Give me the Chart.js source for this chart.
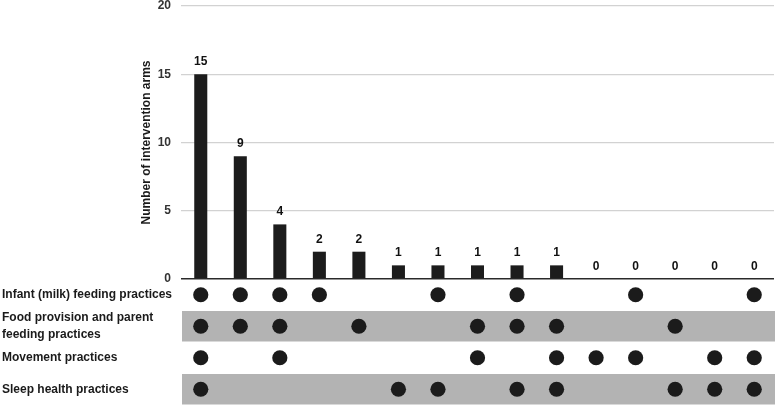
<!DOCTYPE html>
<html>
<head>
<meta charset="utf-8">
<script src="https://cdn.jsdelivr.net/npm/chart.js@4"></script>
<style>
  html, body { margin: 0; padding: 0; background: #fff; }
  #wrap { width: 777px; height: 406px; }
</style>
</head>
<body>
<div id="wrap"><canvas id="upset"></canvas></div>
<script>
// intersection columns (left to right)
const combos = ['c1', 'c2', 'c3', 'c4', 'c5', 'c6', 'c7', 'c8', 'c9', 'c10', 'c11', 'c12', 'c13', 'c14', 'c15'];
const counts = [15, 9, 4, 2, 2, 1, 1, 1, 1, 1, 0, 0, 0, 0, 0];

// matrix rows
const practices = [
  ['Infant (milk) feeding practices'],
  ['Food provision and parent', 'feeding practices'],
  ['Movement practices'],
  ['Sleep health practices']
];
const infantFeeding = [1, 1, 1, 1, 0, 0, 1, 0, 1, 0, 0, 1, 0, 0, 1];
const foodProvision = [1, 1, 1, 0, 1, 0, 0, 1, 1, 1, 0, 0, 1, 0, 0];
const movement      = [1, 0, 1, 0, 0, 0, 0, 1, 0, 1, 1, 1, 0, 1, 1];
const sleepHealth   = [1, 0, 0, 0, 0, 1, 1, 0, 1, 1, 0, 0, 1, 1, 1];
const yTicks = [0, 5, 10, 15, 20];

const membership = [infantFeeding, foodProvision, movement, sleepHealth];

// dots as (column index, row index), built column by column
let dots = [];
combos.forEach((c, col) => {
  membership.forEach((row, r) => {
    if (row[col]) dots.push({ x: col, y: r });
  });
});

const LEFT_W = 179; // room for the row names

const stripes = {
  id: 'stripes',
  beforeDatasetsDraw(chart) {
    const ctx = chart.ctx;
    const ys = chart.scales.yM;
    const area = chart.chartArea;
    const rowH = ys.height / practices.length;
    ctx.save();
    ctx.fillStyle = '#b3b3b3';
    practices.forEach((p, i) => {
      if (i % 2 === 1) {
        const cy = ys.getPixelForValue(i);
        ctx.fillRect(area.left + 1, cy - rowH / 2 + 0.5, area.right - area.left, rowH - 1);
      }
    });
    ctx.restore();
  }
};

const barText = {
  id: 'barText',
  afterDatasetsDraw(chart) {
    const ctx = chart.ctx;
    const meta = chart.getDatasetMeta(0);
    ctx.save();
    ctx.font = 'bold 12px "Liberation Sans", Arial, sans-serif';
    ctx.fillStyle = '#111';
    ctx.textAlign = 'center';
    ctx.textBaseline = 'alphabetic';
    meta.data.forEach((bar, i) => {
      ctx.fillText(String(counts[i]), bar.x, bar.y - 9);
    });

    // axis title, centred on the bar panel
    const yb = chart.scales.y;
    ctx.translate(chart.chartArea.left - 34, (yb.top + yb.bottom) / 2);
    ctx.rotate(-Math.PI / 2);
    ctx.textBaseline = 'middle';
    ctx.fillStyle = '#1a1a1a';
    ctx.fillText('Number of intervention arms', 0, 0);
    ctx.restore();
  }
};

new Chart(document.getElementById('upset'), {
  type: 'bar',
  data: {
    labels: combos,
    datasets: [
      {
        data: counts,
        yAxisID: 'y',
        backgroundColor: '#1c1c1c',
        barPercentage: 0.33,
        categoryPercentage: 1
      },
      {
        type: 'scatter',
        data: dots,
        parsing: false,
        yAxisID: 'yM',
        pointRadius: 7.6,
        pointBackgroundColor: '#1b1b1b',
        pointBorderWidth: 0
      }
    ]
  },
  options: {
    responsive: true,
    maintainAspectRatio: false,
    animation: false,
    layout: {
      autoPadding: false,
      padding: { top: 0, right: 3, bottom: 1, left: 2 }
    },
    plugins: {
      legend: { display: false },
      tooltip: { enabled: false }
    },
    scales: {
      x: {
        type: 'category',
        display: false,
        offset: true
      },
      y: {
        type: 'linear',
        position: 'left',
        stack: 'upset',
        stackWeight: 273,
        weight: 1,
        min: 0,
        max: 20,
        afterBuildTicks: s => { s.ticks = yTicks.map(v => ({ value: v })); },
        afterFit: s => { s.width = LEFT_W; s.paddingTop = 6; s.paddingBottom = 0; },
        border: { display: false },
        grid: {
          drawTicks: false,
          color: c => (c.tick && c.tick.value === 0) ? '#2a2a2a' : '#d2d2d2',
          lineWidth: c => (c.tick && c.tick.value === 0) ? 1.5 : 1.2
        },
        ticks: {
          padding: 10,
          color: '#333',
          font: { family: '"Liberation Sans", Arial, sans-serif', size: 12, weight: 'bold' }
        }
      },
      yM: {
        type: 'category',
        labels: practices,
        position: 'left',
        stack: 'upset',
        stackWeight: 126,
        weight: 0,
        offset: true,
        afterFit: s => { s.width = LEFT_W; s.paddingTop = 0; s.paddingBottom = 0; },
        border: { display: false },
        grid: { display: false, drawTicks: false },
        ticks: {
          autoSkip: false,
          crossAlign: 'far',
          padding: 9,
          color: '#1a1a1a',
          font: { family: '"Liberation Sans", Arial, sans-serif', size: 12, weight: 'bold', lineHeight: 1.35 }
        }
      }
    }
  },
  plugins: [stripes, barText]
});
</script>
</body>
</html>
